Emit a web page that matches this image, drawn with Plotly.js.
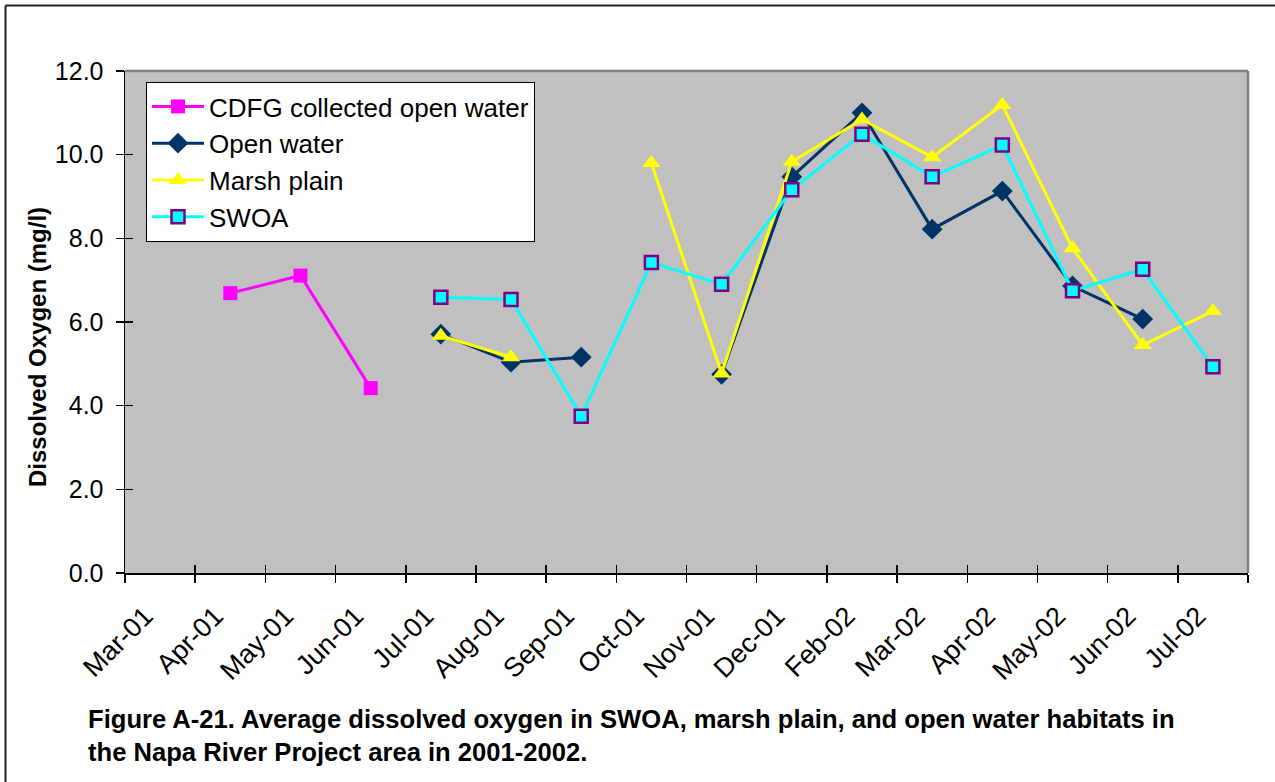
<!DOCTYPE html>
<html>
<head>
<meta charset="utf-8">
<script src="https://cdn.plot.ly/plotly-3.0.1.min.js"></script>
<style>
  html, body { margin: 0; padding: 0; background: #ffffff; }
  #chart { width: 1275px; height: 782px; }
</style>
</head>
<body>
<div id="chart"></div>
<script>
// ---- data ----
const categories = ["Mar-01","Apr-01","May-01","Jun-01","Jul-01","Aug-01","Sep-01","Oct-01",
                    "Nov-01","Dec-01","Feb-02","Mar-02","Apr-02","May-02","Jun-02","Jul-02"];
const cdfgOpenWater = [null, 6.69, 7.11, 4.42, null, null, null, null,
                       null, null, null, null, null, null, null, null];
const openWater     = [null, null, null, null, 5.71, 5.04, 5.16, null,
                       4.75, 9.47, 11.0, 8.22, 9.13, 6.86, 6.07, null];
const marshPlain    = [null, null, null, null, 5.67, 5.16, null, 9.8,
                       4.77, 9.83, 10.84, 9.94, 11.19, 7.76, 5.45, 6.26];
const swoa          = [null, null, null, null, 6.59, 6.54, 3.75, 7.42,
                       6.9, 9.16, 10.49, 9.47, 10.23, 6.75, 7.26, 4.93];
const seriesNames = ["CDFG collected open water", "Open water", "Marsh plain", "SWOA"];
const yTitle = "Dissolved Oxygen (mg/l)";
const caption = "Figure A-21. Average dissolved oxygen in SWOA, marsh plain, and open water habitats in<br>the Napa River Project area in 2001-2002.";

// ---- geometry helpers (pixel -> paper) ----
const W = 1275, H = 782;
const mL = 125, mR = 27, mT = 71, mB = 209;
const pw = W - mL - mR, ph = H - mT - mB;
const px = p => (p - mL) / pw;
const py = p => (H - mB - p) / ph;

const FONT = "Liberation Sans, Arial, sans-serif";

const traces = [
  {
    x: categories, y: cdfgOpenWater, name: seriesNames[0], type: "scatter", mode: "lines+markers",
    connectgaps: false,
    line: { color: "#FF00FF", width: 3 },
    marker: { symbol: "square", size: 14, color: "#FF00FF", line: { width: 0 } }
  },
  {
    x: categories, y: openWater, name: seriesNames[1], type: "scatter", mode: "lines+markers",
    connectgaps: false,
    line: { color: "#003366", width: 3 },
    marker: { symbol: "diamond", size: 16, color: "#003366", line: { width: 0 } }
  },
  {
    x: categories, y: marshPlain, name: seriesNames[2], type: "scatter", mode: "lines+markers",
    connectgaps: false,
    line: { color: "#FFFF00", width: 3 },
    marker: { symbol: "triangle-up", size: 16, color: "#FFFF00", line: { width: 0 } }
  },
  {
    x: categories, y: swoa, name: seriesNames[3], type: "scatter", mode: "lines+markers",
    connectgaps: false,
    line: { color: "#00FFFF", width: 3 },
    marker: { symbol: "square", size: 13, color: "#00FFFF", line: { color: "#800080", width: 2.5 } }
  },
  {
    // invisible helper trace so the overlay axes (inner half of cross ticks) are drawn
    x: categories, y: categories.map(() => null), xaxis: "x2", yaxis: "y2",
    type: "scatter", mode: "lines", showlegend: false, hoverinfo: "skip"
  }
];

const layout = {
  width: W, height: H,
  margin: { l: mL, r: mR, t: mT, b: mB, pad: 0 },
  paper_bgcolor: "#FFFFFF",
  plot_bgcolor: "#C0C0C0",
  font: { family: FONT, size: 24, color: "#000000" },
  showlegend: true,
  legend: {
    x: px(146), y: py(82), xanchor: "left", yanchor: "top",
    bgcolor: "#FFFFFF", bordercolor: "#000000", borderwidth: 1,
    font: { family: FONT, size: 26, color: "#000000" },
    itemwidth: 52, tracegroupgap: 0
  },
  xaxis: {
    type: "category", categoryorder: "array", categoryarray: categories,
    range: [-0.5, 15.5], fixedrange: true,
    tickson: "boundaries", ticks: "outside", ticklen: 8, tickwidth: 1.5, tickcolor: "#000000",
    tickangle: -45, tickfont: { family: FONT, size: 27, color: "#000000" },
    ticklabelshift: -15, ticklabelstandoff: 15,
    showline: true, linecolor: "#000000", linewidth: 1.5,
    showgrid: false, zeroline: false
  },
  yaxis: {
    range: [0, 12], dtick: 2, tick0: 0, tickformat: ".1f", fixedrange: true,
    ticks: "outside", ticklen: 8, tickwidth: 1.5, tickcolor: "#000000",
    tickfont: { family: FONT, size: 25, color: "#000000" },
    ticklabelstandoff: 7,
    showline: true, linecolor: "#000000", linewidth: 1.5,
    showgrid: false, zeroline: false
  },
  xaxis2: {
    overlaying: "x", anchor: "y", side: "bottom",
    type: "category", categoryorder: "array", categoryarray: categories,
    range: [-0.5, 15.5], fixedrange: true,
    tickson: "boundaries", ticks: "inside", ticklen: 8, tickwidth: 1.5, tickcolor: "#000000",
    showticklabels: false, showline: false, showgrid: false, zeroline: false
  },
  yaxis2: {
    overlaying: "y", anchor: "x", side: "left",
    range: [0, 12], dtick: 2, tick0: 0, fixedrange: true,
    ticks: "inside", ticklen: 8, tickwidth: 1.5, tickcolor: "#000000",
    showticklabels: false, showline: false, showgrid: false, zeroline: false
  },
  shapes: [
    // plot-area border (top and right, grey)
    { type: "line", xref: "paper", yref: "paper", x0: 0, x1: 1, y0: 1, y1: 1,
      line: { color: "#808080", width: 2.5 } },
    { type: "line", xref: "paper", yref: "paper", x0: 1, x1: 1, y0: 0, y1: 1,
      line: { color: "#808080", width: 2.5 } },
    // outer chart frame (top and left visible)
    { type: "line", xref: "paper", yref: "paper", x0: px(5.5), x1: px(1280), y0: py(5.5), y1: py(5.5),
      line: { color: "#222222", width: 2 } },
    { type: "line", xref: "paper", yref: "paper", x0: px(5.5), x1: px(5.5), y0: py(5.5), y1: py(790),
      line: { color: "#222222", width: 2 } }
  ],
  annotations: [
    {
      text: "<b>" + yTitle + "</b>", textangle: -90,
      xref: "paper", yref: "paper", x: px(37), y: py(347),
      xanchor: "center", yanchor: "middle", showarrow: false,
      font: { family: FONT, size: 24, color: "#000000" }
    },
    {
      text: "<b>" + caption.replace("<br>", "</b><br><b>") + "</b>", align: "left",
      xref: "paper", yref: "paper", x: px(86), y: py(735),
      xanchor: "left", yanchor: "middle", showarrow: false,
      font: { family: FONT, size: 25.6, color: "#000000" }
    }
  ]
};

Plotly.newPlot("chart", traces, layout, { displayModeBar: false, staticPlot: true });
</script>
</body>
</html>
